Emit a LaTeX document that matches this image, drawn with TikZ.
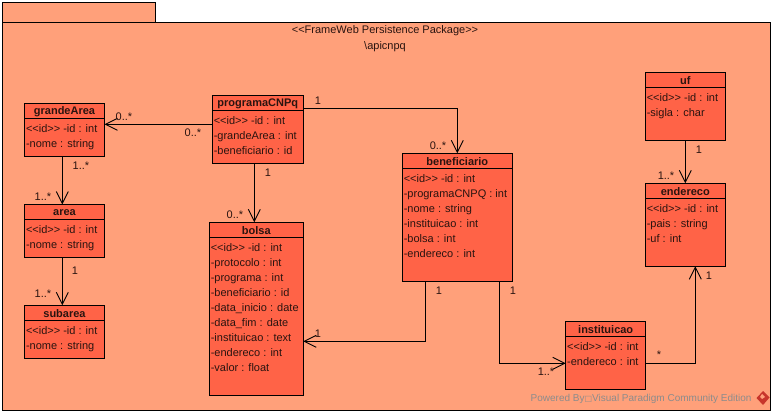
\documentclass[tikz,border=0pt]{standalone}
\usepackage{fontspec}
\setmainfont{Liberation Sans}
\newfontfamily\symfont{DejaVu Sans}
\usetikzlibrary{arrows.meta,calc}
\definecolor{pkgfill}{HTML}{FFA07A}
\definecolor{boxfill}{HTML}{FF6347}
\definecolor{inktext}{HTML}{2A1410}
\definecolor{logored}{HTML}{C8352B}
\tikzset{
  x=1pt,y=-1pt,
  every node/.style={inner sep=0pt,outer sep=0pt,text=inktext},
  pkgshape/.style={draw=black,fill=pkgfill,line width=1pt},
  classshape/.style={draw=black,fill=boxfill,line width=1pt,anchor=north west},
  titletext/.style={font=\fontsize{11}{13}\selectfont\bfseries},
  attrtext/.style={font=\fontsize{11}{15}\selectfont,align=left,anchor=north west},
  mult/.style={font=\fontsize{11}{12}\selectfont},
  assoc/.style={draw=black,line width=0.9pt,-{Straight Barb[length=12pt,width=12pt,line width=0.9pt]}}
}
% name, x1, y1, x2, yline, y2, title, attributes
\newcommand{\umlclass}[8]{
  \path let \n1={#4-#2}, \n2={#6-#3} in
    node[classshape,minimum width=\n1 pt,minimum height=\n2 pt] (#1) at (#2,#3) {};
  \draw[line width=1pt] (#2,#5) -- (#4,#5);
  \node[titletext] (#1-title) at ({(#2+#4)/2},{(#3+#5)/2+0.5}) {#7};
  \node[attrtext] (#1-attrs) at (#2+1.5,#5+6.5) {#8};
}
\begin{document}
\begin{tikzpicture}
\useasboundingbox (0,0) rectangle (775,415);
\fill[white] (0,0) rectangle (775,415);
\draw[pkgshape] (2.5,2.5) rectangle (155.5,22.5);
\draw[pkgshape] (2.5,22.5) rectangle (770.5,410);
\node[font=\fontsize{11}{13}\selectfont] (stereo) at (385,30.5) {<{}<FrameWeb Persistence Package>{}>};
\node[font=\fontsize{11}{13}\selectfont] (pkgname) at (385,47) {\textbackslash apicnpq};

\umlclass{gA}{24.5}{103.5}{104.5}{118.3}{156.3}{grandeArea}{<{}<id>{}> -id : int\\-nome : string}
\umlclass{ar}{24.5}{204.5}{104.5}{219.3}{257.3}{area}{<{}<id>{}> -id : int\\-nome : string}
\umlclass{sa}{24.5}{305.3}{104.5}{320.3}{358.3}{subarea}{<{}<id>{}> -id : int\\-nome : string}
\umlclass{pc}{212.3}{95.5}{303.3}{110.3}{163.3}{programaCNPq}{<{}<id>{}> -id : int\\-grandeArea : int\\-beneficiario : id}
\umlclass{bo}{209.3}{222.3}{303.3}{237.3}{395.3}{bolsa}{<{}<id>{}> -id : int\\-protocolo : int\\-programa : int\\-beneficiario : id\\-data\_inicio : date\\-data\_fim : date\\-instituicao : text\\-endereco : int\\-valor : float}
\umlclass{be}{402.3}{153.3}{512.3}{168.3}{281.3}{beneficiario}{<{}<id>{}> -id : int\\-programaCNPQ : int\\-nome : string\\-instituicao : int\\-bolsa : int\\-endereco : int}
\umlclass{uf}{645.3}{72.3}{725.3}{87.3}{140.3}{uf}{<{}<id>{}> -id : int\\-sigla : char}
\umlclass{en}{645.3}{183.3}{725.3}{198.3}{266.3}{endereco}{<{}<id>{}> -id : int\\-pais : string\\-uf : int}
\umlclass{in}{565.7}{321.3}{645.7}{336.3}{389.3}{instituicao}{<{}<id>{}> -id : int\\-endereco : int}

\draw[assoc] (pc.west |- 0,124.3) -- (gA.east |- 0,124.3);
\draw[assoc] (pc.east |- 0,108.3) -| (457.3,0 |- be.north);
\draw[assoc] (254.3,0 |- pc.south) -- (254.3,0 |- bo.north);
\draw[assoc] (62.3,0 |- gA.south) -- (62.3,0 |- ar.north);
\draw[assoc] (62.3,0 |- ar.south) -- (62.3,0 |- sa.north);
\draw[assoc] (685.3,0 |- uf.south) -- (685.3,0 |- en.north);
\draw[assoc] (425.7,0 |- be.south) |- (bo.east |- 0,341.3);
\draw[assoc] (499.3,0 |- be.south) |- (in.west |- 0,363.3);
\draw[assoc] (in.east |- 0,363.3) -| (695.3,0 |- en.south);

\node[mult] (m1) at (124,117) {0..*};
\node[mult] (m2) at (193,133) {0..*};
\node[mult] (m3) at (318,101) {1};
\node[mult] (m4) at (268,173) {1};
\node[mult] (m5) at (235,215) {0..*};
\node[mult] (m6) at (81,166) {1..*};
\node[mult] (m7) at (43,197) {1..*};
\node[mult] (m8) at (75,271) {1};
\node[mult] (m9) at (43,294) {1..*};
\node[mult] (m10) at (438,146) {0..*};
\node[mult] (m11) at (699,150) {1};
\node[mult] (m12) at (666,176) {1..*};
\node[mult] (m13) at (318,334) {1};
\node[mult] (m14) at (439,291) {1};
\node[mult] (m15) at (513,291) {1};
\node[mult] (m16) at (546,372) {1..*};
\node[mult] (m17) at (659,355) {*};
\node[mult] (m18) at (709,276) {1};

\node[font=\fontsize{10}{12}\selectfont,text=black!45,anchor=east] (powered) at (751.5,398.5) {Powered By{\symfont\fontsize{8}{10}\selectfont □}Visual Paradigm Community Edition};
\fill[logored] (763,391) -- (769.5,397.5) -- (763,405) -- (756.5,398) -- cycle;
\fill[pkgfill] (762,394) -- (765,397) -- (762,399) -- (760,397) -- cycle;
\end{tikzpicture}
\end{document}
